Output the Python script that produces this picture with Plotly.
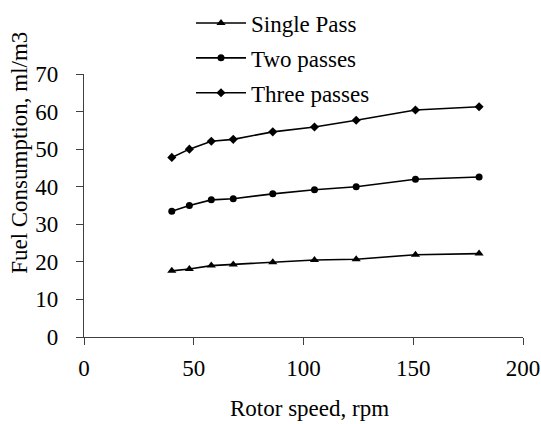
import plotly.graph_objects as go

rotor_speed = [40, 48, 58, 68, 86, 105, 124, 151, 180]
single_pass = [17.6, 18.1, 19.0, 19.3, 19.9, 20.5, 20.7, 21.9, 22.2]
two_passes = [33.5, 35.0, 36.5, 36.8, 38.1, 39.2, 40.0, 42.0, 42.6]
three_passes = [47.8, 50.0, 52.1, 52.6, 54.6, 55.9, 57.7, 60.4, 61.3]

series_names = ["Single Pass", "Two passes", "Three passes"]
x_title = "Rotor speed, rpm"
y_title = "Fuel Consumption, ml/m3"

FONT = "Liberation Serif, Times New Roman, serif"
FS = 23

fig = go.Figure()
fig.add_trace(go.Scatter(x=rotor_speed, y=single_pass, name=series_names[0], mode="lines+markers",
                         line=dict(color="black", width=1.6),
                         marker=dict(symbol="triangle-up", size=8, color="black"),
                         legendgroup="a"))
fig.add_trace(go.Scatter(x=rotor_speed, y=two_passes, name=series_names[1], mode="lines+markers",
                         line=dict(color="black", width=1.6),
                         marker=dict(symbol="circle", size=7, color="black"),
                         legendgroup="b"))
fig.add_trace(go.Scatter(x=rotor_speed, y=three_passes, name=series_names[2], mode="lines+markers",
                         line=dict(color="black", width=1.6),
                         marker=dict(symbol="diamond", size=7, color="black"),
                         legendgroup="c"))

axis_common = dict(showgrid=False, zeroline=False, showline=True, linecolor="#404040", linewidth=1.2,
                   ticks="outside", ticklen=7, tickcolor="#404040", tickwidth=1.2,
                   tickfont=dict(family=FONT, size=FS, color="black"))

fig.update_layout(
    width=541, height=424,
    margin=dict(l=84, r=18, t=74, b=87, autoexpand=False),
    paper_bgcolor="white", plot_bgcolor="white",
    font=dict(family=FONT, size=FS, color="black"),
    xaxis=dict(range=[0, 200], tickvals=[0, 50, 100, 150, 200], ticklabelstandoff=3, automargin=False, **axis_common),
    yaxis=dict(range=[0, 70], tickvals=[0, 10, 20, 30, 40, 50, 60, 70], ticklabelstandoff=13, automargin=False, **axis_common),
    showlegend=True,
    legend=dict(x=191/541, y=1 - 1.5/424, xref="container", yref="container", xanchor="left", yanchor="top",
                traceorder="grouped", tracegroupgap=2, itemwidth=50,
                font=dict(family=FONT, size=FS, color="black"), bgcolor="rgba(0,0,0,0)"),
    annotations=[
        dict(text=x_title, xref="paper", yref="paper", x=(309 - 84) / 438.7, y=-(409 - 337.3) / 263.3,
             xanchor="center", yanchor="middle", showarrow=False, font=dict(family=FONT, size=FS)),
        dict(text=y_title, xref="paper", yref="paper", x=(20 - 84) / 438.7, y=(337.3 - 153) / 263.3,
             xanchor="center", yanchor="middle", textangle=-90, showarrow=False, font=dict(family=FONT, size=FS)),
    ],
)

fig.write_html("out.html")
